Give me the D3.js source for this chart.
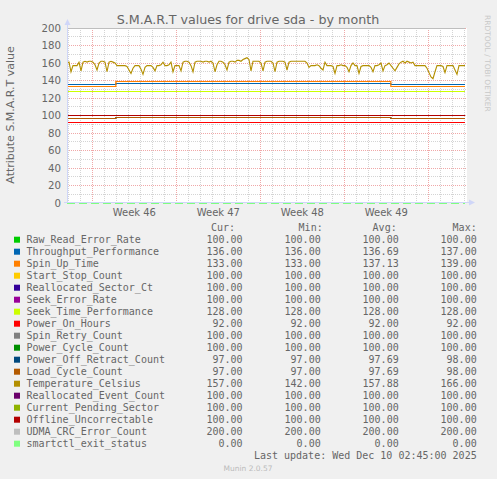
<!DOCTYPE html>
<html><head><meta charset="utf-8">
<script src="https://cdn.jsdelivr.net/npm/d3@7"></script>
<style>body{margin:0;background:#f0f0f0;overflow:hidden}</style>
</head><body><svg id="c" width="497" height="479"></svg>
<script>
// ---------- data ----------
const seriesNames = ["Raw_Read_Error_Rate","Throughput_Performance","Spin_Up_Time","Start_Stop_Count","Reallocated_Sector_Ct","Seek_Error_Rate","Seek_Time_Performance","Power_On_Hours","Spin_Retry_Count","Power_Cycle_Count","Power_Off_Retract_Count","Load_Cycle_Count","Temperature_Celsius","Reallocated_Event_Count","Current_Pending_Sector","Offline_Uncorrectable","UDMA_CRC_Error_Count","smartctl_exit_status"];
const seriesColors = ["#00cc00","#0066b3","#ff8000","#ffcc00","#330099","#990099","#ccff00","#ff0000","#808080","#008f00","#00487d","#b35a00","#b38f00","#6b006b","#8fb300","#b30000","#bebebe","#80ff80"];
const curValues = [100,136,133,100,100,100,128,92,100,100,97,97,157,100,100,100,200,0];
const minValues = [100,136,133,100,100,100,128,92,100,100,97,97,142,100,100,100,200,0];
const avgValues = [100,136.69,137.13,100,100,100,128,92,100,100,97.69,97.69,157.88,100,100,100,200,0];
const maxValues = [100,137,139,100,100,100,128,92,100,100,98,98,166,100,100,100,200,0];

// periods for step-changing series
const periodStarts = ["2025-11-06T21:20:00Z","2025-11-10T23:00:00Z","2025-12-03T21:00:00Z"];
const dataEnd = "2025-12-10T01:20:00Z";
const throughputPeriods = [136,137,136];
const spinUpPeriods = [133,139,133];
const powerOffRetractPeriods = [97,98,97];
const loadCyclePeriods = [97,98,97];

// temperature samples, every 4 hours from first period start
const temperature = [
160,161,150,157,157,157,161,151,161,162,161,162,162,161,158,152,160,162,162,161,
150,161,162,161,160,157,157,157,157,157,156,152,148,154,157,157,157,153,147,155,
157,157,157,155,151,157,157,158,161,157,157,158,161,150,157,157,157,151,161,162,
162,161,157,150,161,162,162,162,161,162,162,161,162,160,150,158,162,162,161,158,
152,161,162,162,161,163,163,162,164,165,166,164,151,162,162,162,162,160,151,161,
162,162,162,160,150,161,162,162,162,161,152,161,162,162,162,162,162,162,162,162,
160,155,157,157,157,158,157,154,152,161,157,157,157,156,148,157,157,158,157,157,
155,150,157,160,157,157,148,156,157,157,157,157,155,150,157,157,158,160,151,157,
158,160,157,154,151,155,159,161,162,160,162,161,160,161,157,157,157,157,157,157,
154,149,144,142,150,157,157,157,156,149,157,157,157,157,152,147,157,157,157,157];
const tempStepHours = 4;

const yTicks = [0,20,40,60,80,100,120,140,160,180,200];
const weekLabels = ["Week 46","Week 47","Week 48","Week 49"];
const viewStart = "2025-11-06T21:20:00Z";
const viewEnd = "2025-12-10T05:20:00Z";

// ---------- drawing ----------
const svg = d3.select("#c");
const W = 497, H = 479;
svg.append("rect").attr("width",W).attr("height",H).attr("fill","#f0f0f0");
const FONT = "'DejaVu Sans', sans-serif";
const MONO = "'DejaVu Sans Mono', monospace";
const fontCol = "#666666";

const x = d3.scaleUtc().domain([new Date(viewStart), new Date(viewEnd)]).range([67, 467]);
const y = d3.scaleLinear().domain([0,200]).range([203, 28]);

// canvas
svg.append("rect").attr("x",67).attr("y",28).attr("width",400).attr("height",175).attr("fill","#fff");

const grid = svg.append("g").attr("shape-rendering","crispEdges");
const minorCol = "#d4d4d4", majorCol = "#f0a8a8";
// minor horizontal
d3.range(10,200,20).forEach(v=>{
  const py = Math.floor(y(v))+0.5;
  grid.append("line").attr("x1",67).attr("x2",467).attr("y1",py).attr("y2",py)
    .attr("stroke",minorCol).attr("stroke-dasharray","1,1");
});
// minor vertical (days)
x.ticks(d3.utcDay.every(1)).forEach(t=>{
  if (d3.utcSunday.floor(t).getTime()===t.getTime()) return;
  const px = Math.round(x(t))+0.5;
  grid.append("line").attr("x1",px).attr("x2",px).attr("y1",28).attr("y2",203)
    .attr("stroke",minorCol).attr("stroke-dasharray","1,1");
});
// major horizontal
yTicks.forEach(v=>{
  if (v===0) return;
  const py = Math.floor(y(v))+0.5;
  grid.append("line").attr("x1",67).attr("x2",467).attr("y1",py).attr("y2",py)
    .attr("stroke",majorCol).attr("stroke-dasharray","1,1");
});
// major vertical (weeks, Sunday)
const weekTicks = x.ticks(d3.utcSunday.every(1));
weekTicks.forEach(t=>{
  const px = Math.round(x(t))+0.5;
  grid.append("line").attr("x1",px).attr("x2",px).attr("y1",28).attr("y2",203)
    .attr("stroke",majorCol).attr("stroke-dasharray","1,1");
});

// build series
const p0 = periodStarts.map(s=>new Date(s));
const tEnd = new Date(dataEnd);
function stepSeries(vals){
  const pts = vals.map((v,i)=>({t:p0[i], v}));
  pts.push({t:tEnd, v:vals[vals.length-1]});
  return pts;
}
function constSeries(v){ return stepSeries([v,v,v]); }
const tempSeries = temperature.map((v,i)=>({t:new Date(p0[0].getTime()+i*tempStepHours*3600e3), v}));

const seriesData = seriesNames.map((n,i)=>{
  if (n==="Throughput_Performance") return stepSeries(throughputPeriods);
  if (n==="Spin_Up_Time") return stepSeries(spinUpPeriods);
  if (n==="Power_Off_Retract_Count") return stepSeries(powerOffRetractPeriods);
  if (n==="Load_Cycle_Count") return stepSeries(loadCyclePeriods);
  if (n==="Temperature_Celsius") return tempSeries;
  return constSeries(curValues[i]);
});

svg.append("clipPath").attr("id","clip").append("rect").attr("x",67).attr("y",28).attr("width",401).attr("height",176);
const lineStep = d3.line().x(d=>x(d.t)).y(d=>Math.floor(y(d.v))+0.5).curve(d3.curveStepAfter);
const lineLin = d3.line().x(d=>x(d.t)).y(d=>y(d.v));
const lines = svg.append("g").attr("clip-path","url(#clip)");
seriesData.forEach((d,i)=>{
  const isTemp = seriesNames[i]==="Temperature_Celsius";
  const p = lines.append("path").datum(d)
    .attr("d", isTemp ? lineLin : lineStep)
    .attr("fill","none").attr("stroke",seriesColors[i]).attr("stroke-width",isTemp?1.1:1.2);
  if (seriesNames[i]==="smartctl_exit_status") p.attr("stroke-dasharray","8,4").attr("stroke-width",2);
});

// axes lines + arrows
const axisCol = "#cfd6f8";
svg.append("line").attr("x1",67.5).attr("x2",67.5).attr("y1",203).attr("y2",22).attr("stroke",axisCol).attr("stroke-width",1);
svg.append("line").attr("x1",64).attr("x2",470).attr("y1",202.5).attr("y2",202.5).attr("stroke",axisCol).attr("stroke-width",1);
svg.append("path").attr("d","M64.5,25 L67.5,19 L70.5,25 Z").attr("fill",axisCol);
svg.append("path").attr("d","M469,199.5 L475,202.5 L469,205.5 Z").attr("fill",axisCol);

// y tick labels
svg.append("g").selectAll("text").data(yTicks).join("text")
  .attr("x",61).attr("y",d=>y(d)).attr("dy","0.36em").attr("text-anchor","end")
  .attr("font-family",FONT).attr("font-size",10.2).attr("fill",fontCol).text(d=>d);

// x labels (centered mid-week)
weekLabels.forEach((lab,i)=>{
  const a = weekTicks[i], b = weekTicks[i+1];
  const cx = (x(a)+x(b))/2;
  svg.append("text").attr("x",cx).attr("y",216).attr("text-anchor","middle")
    .attr("font-family",FONT).attr("font-size",10).attr("fill",fontCol).text(lab);
});

// title
svg.append("text").attr("x",248).attr("y",24).attr("text-anchor","middle")
  .attr("font-family",FONT).attr("font-size",12.7).attr("fill",fontCol)
  .text("S.M.A.R.T values for drive sda - by month");

// y axis label
svg.append("text").attr("transform","translate(14,115) rotate(-90)").attr("text-anchor","middle")
  .attr("font-family",FONT).attr("font-size",11).attr("fill",fontCol).text("Attribute S.M.A.R.T value");

// watermark
svg.append("text").attr("transform","translate(485,15) rotate(90)").attr("text-anchor","start")
  .attr("font-family",FONT).attr("font-size",7.5).attr("fill","#c8c8c8").text("RRDTOOL / TOBI OETIKER");

// legend
const leg = svg.append("g").attr("font-family",MONO).attr("font-size",10).attr("fill",fontCol);
const hdrY = 231;
[["Cur:",235],["Min:",322.7],["Avg:",396.7],["Max:",476.7]].forEach(([t,xe])=>{
  leg.append("text").attr("x",xe).attr("y",hdrY).attr("text-anchor","end").text(t);
});
const fmt = d3.format(".2f");
seriesNames.forEach((n,i)=>{
  const cy = 239.7 + i*12;
  leg.append("rect").attr("x",14).attr("y",cy-3).attr("width",6).attr("height",6).attr("fill",seriesColors[i]);
  leg.append("text").attr("x",26.5).attr("y",cy+3.5).text(n);
  [[curValues,242.5],[minValues,320.7],[avgValues,398.7],[maxValues,476.7]].forEach(([arr,xe])=>{
    leg.append("text").attr("x",xe).attr("y",cy+3.5).attr("text-anchor","end").text(fmt(arr[i]));
  });
});
leg.append("text").attr("x",476.7).attr("y",458.5).attr("text-anchor","end").text("Last update: Wed Dec 10 02:45:00 2025");
svg.append("text").attr("x",248).attr("y",471).attr("text-anchor","middle")
  .attr("font-family",FONT).attr("font-size",7.5).attr("fill","#bbbbbb").text("Munin 2.0.57");
</script></body></html>
